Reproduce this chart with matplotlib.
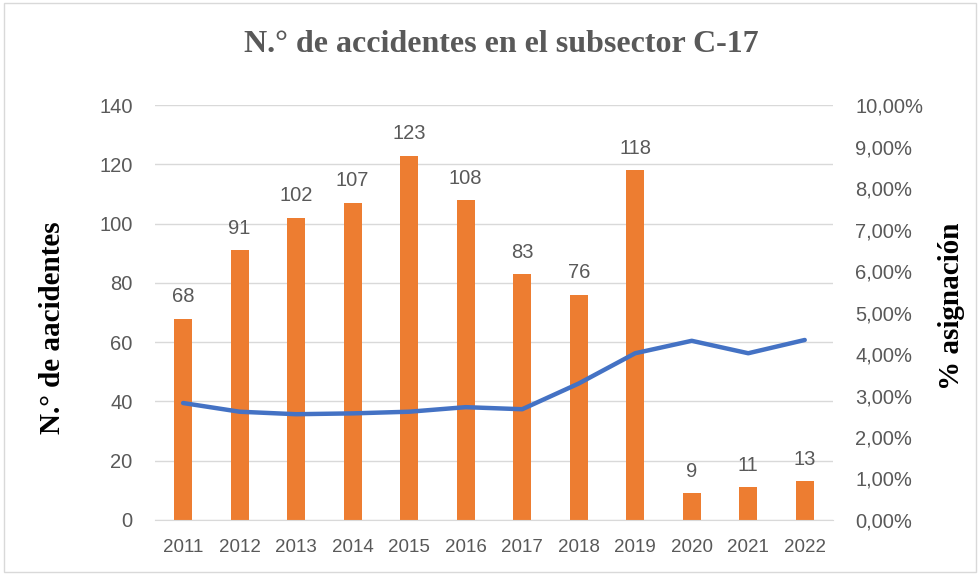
import matplotlib
matplotlib.use("Agg")
import matplotlib.pyplot as plt
from matplotlib.patches import Rectangle
from matplotlib.ticker import FuncFormatter

years = ["2011", "2012", "2013", "2014", "2015", "2016", "2017", "2018", "2019", "2020", "2021", "2022"]
accidents = [68, 91, 102, 107, 123, 108, 83, 76, 118, 9, 11, 13]
pct_asignacion = [2.82, 2.61, 2.55, 2.57, 2.61, 2.72, 2.67, 3.29, 4.02, 4.32, 4.02, 4.34]

title = "N.° de accidentes en el subsector C-17"
ylabel_left = "N.° de aacidentes"
ylabel_right = "% asignación"

txt = "#595959"
sans = ["Liberation Sans", "DejaVu Sans"]
serif = ["Liberation Serif", "DejaVu Serif"]

fig = plt.figure(figsize=(9.8, 5.75), dpi=100)
fig.patches.append(Rectangle((0.004, 0.006), 0.992, 0.988, transform=fig.transFigure,
                             fill=False, edgecolor="#D9D9D9", linewidth=1.0))
ax = fig.add_axes([0.158, 0.0957, 0.692, 0.7213])
x = list(range(len(years)))
ax.bar(x, accidents, width=0.32, color="#ED7D31", zorder=2)
ax.set_xlim(-0.5, len(years) - 0.5)
ax.set_ylim(0, 140)
ax.set_yticks(range(0, 141, 20))
ax.grid(axis="y", color="#D9D9D9", linewidth=1.0, zorder=0)
ax.set_axisbelow(True)
for s in ["top", "right", "left"]:
    ax.spines[s].set_visible(False)
ax.spines["bottom"].set_color("#D9D9D9")
ax.tick_params(axis="x", length=0, labelsize=13.5, labelcolor=txt, pad=14)
ax.tick_params(axis="y", length=0, labelsize=14.5, labelcolor=txt, pad=16)
ax.set_xticks(x)
ax.set_xticklabels(years, fontfamily=sans)
for lab in ax.get_yticklabels():
    lab.set_fontfamily(sans)
for xi, v in zip(x, accidents):
    ax.annotate(str(v), (xi, v), xytext=(0, 9), textcoords="offset points",
                ha="center", va="bottom", fontsize=14.5, color=txt, family=sans)

ax2 = ax.twinx()
ax2.plot(x, pct_asignacion, color="#4472C4", linewidth=3.2, solid_capstyle="round", zorder=3)
ax2.set_ylim(0, 10)
ax2.set_yticks(range(0, 11))
ax2.yaxis.set_major_formatter(FuncFormatter(lambda v, p: f"{v:.2f}".replace(".", ",") + "%"))
for s in ["top", "right", "left", "bottom"]:
    ax2.spines[s].set_visible(False)
ax2.tick_params(axis="y", length=0, labelsize=14.5, labelcolor=txt, pad=16)
for lab in ax2.get_yticklabels():
    lab.set_fontfamily(sans)

fig.text(0.054, 0.43, ylabel_left, rotation=90, ha="center", va="center",
         fontsize=21, fontweight="bold", family=serif, color="black")
fig.text(0.971, 0.468, ylabel_right, rotation=90, ha="center", va="center",
         fontsize=21, fontweight="bold", family=serif, color="black")
fig.text(0.512, 0.922, title, ha="center", va="center", fontsize=23, fontweight="bold",
         family=serif, color=txt)

fig.savefig("out.png", dpi=100)
